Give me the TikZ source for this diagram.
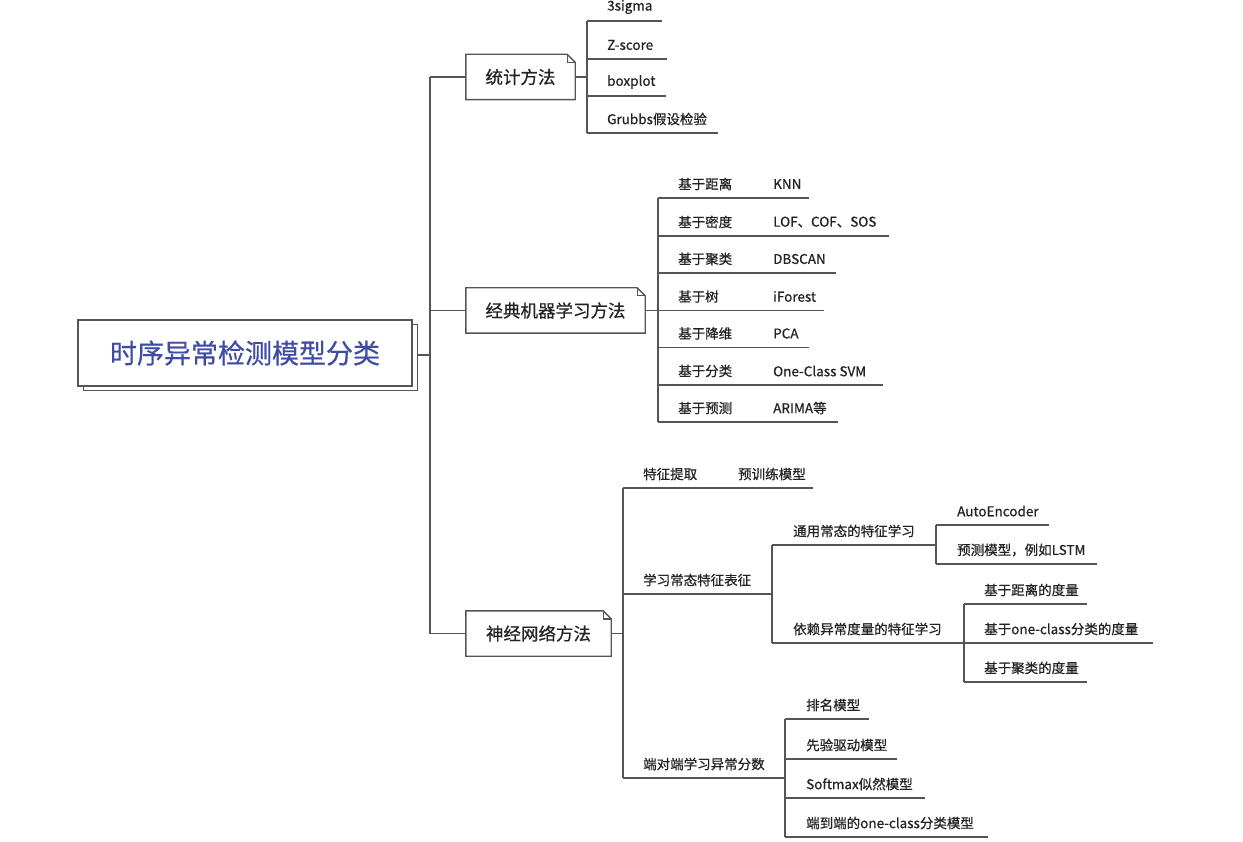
\documentclass[tikz,border=0pt]{standalone}
\usepackage{fontspec}
\setmainfont{Noto Sans CJK SC}[FakeBold=0.6]
\definecolor{lc}{RGB}{85,85,85}
\definecolor{tc}{RGB}{35,35,35}
\definecolor{rc}{RGB}{62,76,165}
\newcommand\mkleaf[6]{%
  \node[leaf] (#1) at ({#2},{#3-14}) {#5};
  \coordinate (#1e) at ({#4},{#3});
  \draw[line] (#6 |- #1e) -- (#1e);}
\newcommand\mkpair[7]{%
  \node[leaf] (#1) at (678,{#2-14}) {#4};
  \node[leaf] (#1k) at (773,{#2-14}) {#5};
  \coordinate (#1e) at ({#3},{#2});
  \draw[line] (#6 |- #1e) -- (#1e);}
\newcommand\dogear[1]{%
  \draw[line] (#1.south west) -- (#1.north west) -- ([xshift=-8pt]#1.north east) -- ([yshift=-8pt]#1.north east) -- (#1.south east) -- cycle;
  \draw[line] ([xshift=-8pt]#1.north east) |- ([yshift=-8pt]#1.north east);}
\begin{document}
\begin{tikzpicture}[x=1pt,y=-1pt,
  line/.style={draw=lc,line width=1.4pt},
  leaf/.style={anchor=west,inner sep=0pt,text=tc,font=\fontsize{13.5}{16}\selectfont},
  boxlab/.style={inner sep=0pt,minimum height=45pt,text=tc,font=\fontsize{17.5}{20}\selectfont},
  rootbox/.style={draw=lc,line width=1.4pt,fill=white,minimum width=334pt,minimum height=66pt,inner sep=0pt}]
\useasboundingbox (0,0) rectangle (1243,842);
\fill[white] (0,0) rectangle (1243,842);

% root
\node[rootbox] (rootback) at (250.5,357.5) {};
\node[rootbox,text=rc,font=\fontsize{27}{30}\selectfont] (root) at (245,353) {时序异常检测模型分类};
\coordinate (sp) at (430,355);

% first level boxes
\node[boxlab,minimum width=109pt] (s1) at (520.5,77) {统计方法};
\node[boxlab,minimum width=179pt] (s2) at (555.5,310.5) {经典机器学习方法};
\node[boxlab,minimum width=145pt] (s3) at (538.5,633.5) {神经网络方法};
\dogear{s1}
\dogear{s2}
\dogear{s3}

\draw[line] (rootback.east |- sp) -- (sp);
\draw[line] (sp |- s1) -- (sp |- s3);
\draw[line] (sp |- s1) -- (s1.west);
\draw[line] (sp |- s2) -- (s2.west);
\draw[line] (sp |- s3) -- (s3.west);

% statistics
\coordinate (j1) at (587,77);
\draw[line] (s1.east) -- (j1);
\mkleaf{a1}{607}{21}{662}{3sigma}{j1}
\mkleaf{a2}{607}{59}{667}{Z-score}{j1}
\mkleaf{a3}{607}{96}{666}{boxplot}{j1}
\mkleaf{a4}{607}{133}{718}{Grubbs假设检验}{j1}
\draw[line] (j1 |- a1e) -- (j1 |- a4e);

% classical ML
\coordinate (j2) at (658,310.5);
\draw[line] (s2.east) -- (j2);
\mkpair{b1}{198}{809}{基于距离}{KNN}{j2}{}
\mkpair{b2}{236}{889}{基于密度}{LOF、COF、SOS}{j2}{}
\mkpair{b3}{273}{836}{基于聚类}{DBSCAN}{j2}{}
\mkpair{b4}{310.5}{824}{基于树}{iForest}{j2}{}
\mkpair{b5}{347.5}{809}{基于降维}{PCA}{j2}{}
\mkpair{b6}{385}{883}{基于分类}{One-Class SVM}{j2}{}
\mkpair{b7}{422}{838}{基于预测}{ARIMA等}{j2}{}
\draw[line] (j2 |- b1e) -- (j2 |- b7e);

% neural networks
\coordinate (j3) at (623,633.5);
\draw[line] (s3.east) -- (j3);
\mkleaf{c1}{643}{488}{813}{特征提取}{j3}
\node[leaf] (c1k) at (738,474) {预训练模型};
\mkleaf{c2}{643}{594}{772}{学习常态特征表征}{j3}
\mkleaf{c3}{643}{778}{785}{端对端学习异常分数}{j3}
\draw[line] (j3 |- c1e) -- (j3 |- c3e);

\coordinate (k2) at (c2e);
\mkleaf{d1}{793}{545}{936}{通用常态的特征学习}{k2}
\mkleaf{d2}{793}{643}{964}{依赖异常度量的特征学习}{k2}
\draw[line] (k2 |- d1e) -- (k2 |- d2e);

\coordinate (k3) at (d1e);
\mkleaf{e1}{957}{525}{1049}{AutoEncoder}{k3}
\mkleaf{e2}{957}{564}{1097}{预测模型，例如LSTM}{k3}
\draw[line] (k3 |- e1e) -- (k3 |- e2e);

\coordinate (k4) at (d2e);
\mkleaf{f1}{984}{604}{1087}{基于距离的度量}{k4}
\mkleaf{f2}{984}{643}{1153}{基于one-class分类的度量}{k4}
\mkleaf{f3}{984}{682}{1087}{基于聚类的度量}{k4}
\draw[line] (k4 |- f1e) -- (k4 |- f3e);

\coordinate (k5) at (c3e);
\mkleaf{g1}{806}{719}{869}{排名模型}{k5}
\mkleaf{g2}{806}{759}{897}{先验驱动模型}{k5}
\mkleaf{g3}{806}{798}{925}{Softmax似然模型}{k5}
\mkleaf{g4}{806}{837}{988}{端到端的one-class分类模型}{k5}
\draw[line] (k5 |- g1e) -- (k5 |- g4e);
\end{tikzpicture}
\end{document}
